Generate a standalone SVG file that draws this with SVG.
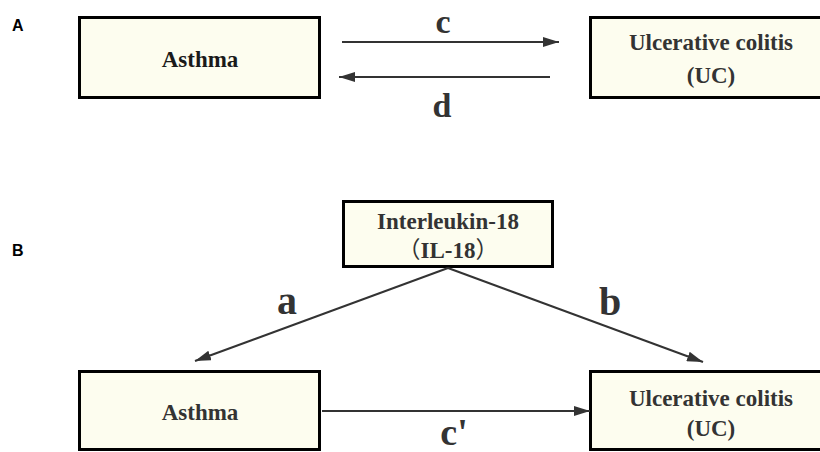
<svg xmlns="http://www.w3.org/2000/svg" width="820" height="452" viewBox="0 0 820 452">
<defs>
<style>
.box{fill:#fdfdef;stroke:#000;stroke-width:3}
.t{font-family:"Liberation Serif",serif;font-weight:bold;font-size:23px;fill:#333;text-anchor:middle}
.cjk{font-family:"Noto Sans CJK SC",sans-serif;font-weight:normal}
.lbl{font-family:"Liberation Serif",serif;font-weight:bold;fill:#333;text-anchor:middle}
.pn{font-family:"Liberation Sans",Arial,sans-serif;font-weight:bold;font-size:16px;fill:#000}
.ln{stroke:#333;stroke-width:2;fill:none;marker-end:url(#ah)}
</style>
<marker id="ah" viewBox="0 0 16 10" refX="16" refY="5" markerWidth="16" markerHeight="10" markerUnits="userSpaceOnUse" orient="auto">
<path d="M0,0 L16,5 L0,10 Z" fill="#333"/>
</marker>
</defs>
<rect width="820" height="452" fill="#fff"/>
<text class="pn" x="12" y="31">A</text>
<text class="pn" x="12" y="256">B</text>
<g id="asthmaA">
<rect class="box" x="79.5" y="17.5" width="240" height="80"/>
<text class="t" x="200" y="67" style="fill:#1a1a1a">Asthma</text>
</g>
<g id="ucA">
<rect class="box" x="590.5" y="17.5" width="240" height="80"/>
<text class="t" x="711" y="50">Ulcerative colitis</text>
<text class="t" x="711" y="83">(UC)</text>
</g>
<g id="il18">
<rect class="box" x="343.5" y="201.5" width="209" height="65"/>
<text class="t" x="448" y="229">Interleukin-18</text>
<text class="t" x="448" y="258"><tspan class="cjk">（</tspan>IL-18<tspan class="cjk">）</tspan></text>
</g>
<g id="asthmaB">
<rect class="box" x="79.5" y="371.5" width="240" height="78"/>
<text class="t" x="200" y="420">Asthma</text>
</g>
<g id="ucB">
<rect class="box" x="590.5" y="371.5" width="240" height="78"/>
<text class="t" x="711" y="406">Ulcerative colitis</text>
<text class="t" x="711" y="436">(UC)</text>
</g>
<g id="connectors">
<line class="ln" x1="342" y1="42" x2="559" y2="42"/>
<line class="ln" x1="550" y1="77" x2="339" y2="77"/>
<line class="ln" x1="448" y1="268" x2="195" y2="361"/>
<line class="ln" x1="448" y1="268" x2="703" y2="362"/>
<line class="ln" x1="322" y1="411" x2="590" y2="411"/>
<text class="lbl" x="443" y="33" font-size="34">c</text>
<text class="lbl" x="442" y="117" font-size="34">d</text>
<text class="lbl" x="287" y="314" font-size="40">a</text>
<text class="lbl" x="610" y="315" font-size="40">b</text>
<text class="lbl" x="454" y="445" font-size="38">c'</text>
</g>
</svg>
